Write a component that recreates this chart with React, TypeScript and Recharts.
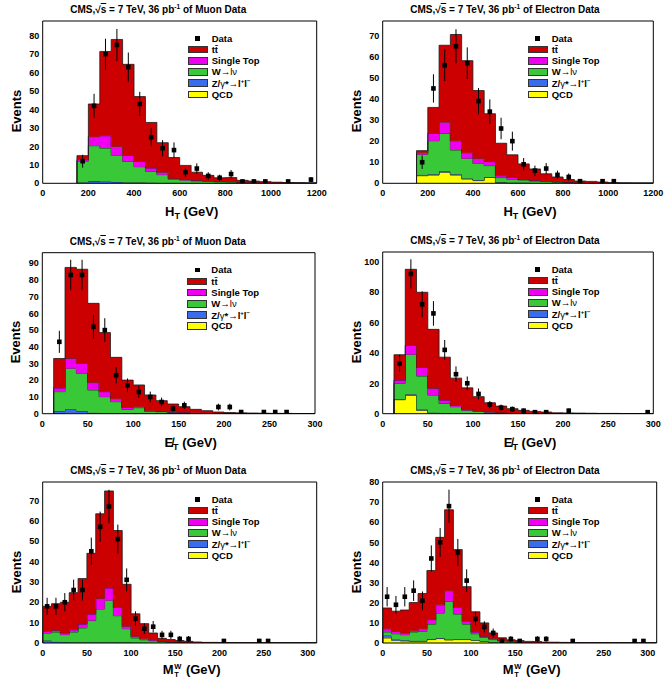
import { ComposedChart, Area, Scatter, ErrorBar, XAxis, YAxis } from "recharts";
import type { ReactNode } from "react";

const FONT = '"Liberation Sans", Arial, Helvetica, sans-serif';

// bin edges (GeV)
const htEdges = [150, 200, 250, 300, 350, 400, 450, 500, 550, 600, 650, 700, 750, 800, 850, 900, 950, 1000, 1050, 1100, 1150, 1200];
const metEdges = [12.5, 25, 37.5, 50, 62.5, 75, 87.5, 100, 112.5, 125, 137.5, 150, 162.5, 175, 187.5, 200, 212.5, 225, 237.5, 250, 262.5, 275, 287.5, 300];
const mtEdges = [0, 10, 20, 30, 40, 50, 60, 70, 80, 90, 100, 110, 120, 130, 140, 150, 160, 170, 180, 190, 200, 210, 220, 230, 240, 250, 260, 270, 280, 290, 300, 310];

// axis tick labels
const htTicks = [0, 200, 400, 600, 800, 1000, 1200];
const gevTicks = [0, 50, 100, 150, 200, 250, 300];
const y70 = [0, 10, 20, 30, 40, 50, 60, 70];
const y80 = [0, 10, 20, 30, 40, 50, 60, 70, 80];
const y90 = [0, 10, 20, 30, 40, 50, 60, 70, 80, 90];
const y100 = [0, 20, 40, 60, 80, 100];

// H_T, muon channel
const htMuTT = [2.2, 17.7, 45.7, 58, 49.2, 35.1, 24.7, 16, 11.4, 7.6, 4.4, 3.0, 2.0, 2.2, 1.1, 0.8, 0.6, 0.4, 0.25, 0.2, 0.15];
const htMuST = [0.8, 4.9, 6.7, 4.8, 3.4, 2.9, 1.8, 1.3, 0.4, 0.4, 0.3, 0.3, 0.2, 0.2, 0.1, 0.1, 0.1, 0.05, 0.05, 0, 0];
const htMuW = [11.5, 19.2, 18.1, 14.5, 11.4, 8.6, 6.2, 4.5, 2.0, 1.6, 1.2, 0.9, 0.7, 0.6, 0.4, 0.3, 0.2, 0.15, 0.1, 0.1, 0.05];
const htMuZ = [0.5, 1.2, 1.0, 0.7, 0.5, 0.4, 0.3, 0.2, 0.2, 0.1, 0.1, 0.1, 0.1, 0.1];
const htMuQCD: number[] = [];
const htMuData = [12, 42, 70, 75, 63, 43, 25, 19, 18, 6, 8, 4, 3, 5, 1, 1, 1, null, 1, null, 2];
const htMuErr = [3.5, 6.5, 8.4, 8.7, 7.9, 6.6, 5, 4.4, 4.2, 2.4, 2.8, 2, 1.7, 2.2, 1, 1, 1, null, 1, null, 1.4];

// H_T, electron channel
const htElTT = [1, 12.3, 36.5, 50.4, 43.7, 32.2, 22.7, 15.4, 10.7, 7.3, 5.4, 3.4, 2.2, 1.3, 0.8, 0.7, 0.5, 0.25, 0.2, 0.1, 0.1];
const htElST = [0.8, 3.5, 5.3, 4.4, 2.7, 2.3, 1.9, 0.9, 0.8, 0.3, 0.3, 0.3, 0.2, 0.1, 0.1, 0.05, 0, 0.05];
const htElW = [9.7, 15.9, 18, 11.5, 9.5, 7.9, 5.4, 2.2, 1.7, 1.3, 0.9, 0.65, 0.35, 0.3, 0.2, 0.15, 0.1];
const htElZ = [0.4, 0.4, 0.5, 0.4, 0.3, 0.3, 0.2, 0.2, 0.1, 0.1, 0.1, 0.05, 0.05];
const htElQCD = [3.6, 3.9, 5.2, 3.9, 2.0, 1.3, 2.8, 0.3, 0.2, 0.2, 0.1, 0.1, 0.2, 0.1];
const htElData = [10, 45, 56, 65, 57, 39, 34, 26, 20, 9, 6, 7, 4, 3, 1, null, 1, 1, null, null, null];
const htElErr = [3.2, 6.7, 7.5, 8.1, 7.5, 6.2, 5.8, 5.1, 4.5, 3, 2.4, 2.6, 2, 1.7, 1, null, 1, 1, null, null, null];

// missing E_T, muon channel
const metMuTT = [17.6, 54.4, 56.3, 47.4, 35.3, 24.7, 16.3, 13, 9.4, 6.4, 4.8, 3.4, 2.1, 1.4, 0.8, 0.55, 0.4, 0.3, 0.25, 0.2, 0.2, 0.1, 0.1];
const metMuST = [2.2, 6, 6, 4.4, 3, 1.8, 1.2, 0.6, 0.4, 0.2, 0.2, 0.2, 0.1, 0.1, 0.05, 0.05, 0.05, 0.05, 0.05];
const metMuW = [11.6, 24.5, 22.5, 13.6, 9.8, 6.9, 2.4, 3.4, 1.3, 1.1, 0.75, 0.55, 0.4, 0.3, 0.15, 0.1, 0.05, 0.05];
const metMuZ = [1.5, 2, 1.2, 0.6, 0.4, 0.3, 0.2, 0.2, 0.1, 0.1, 0.05, 0.05];
const metMuQCD = [0.1, 0.6, 0.4];
const metMuData = [43, 83, 83, 52, 50, 23, 17, 13, 10, 7, 3, 5, null, null, 4, 4, 1, null, 1, 1, 1, null, null];
const metMuErr = [6.6, 9.1, 9.1, 7.2, 7.1, 4.8, 4.1, 3.6, 3.2, 2.6, 1.7, 2.2, null, null, 2, 2, 1, null, 1, 1, 1, null, null];

// missing E_T, electron channel
const metElTT = [16.7, 50, 49.4, 38.8, 28.2, 17.9, 14.1, 9.4, 6, 4.2, 2.8, 1.9, 1.3, 1, 0.6, 0.5, 0.4, 0.3, 0.2, 0.2, 0.1, 0.1, 0.1];
const metElST = [2.1, 6, 5.7, 4.4, 2.2, 0.9, 0.7, 0.3, 0.2, 0.1, 0.1, 0.1, 0.1];
const metElW = [10.3, 26.2, 22.1, 11.6, 6.4, 4.5, 2.1, 1.5, 1.0, 0.7, 0.4, 0.2, 0.1, 0.1];
const metElZ = [0.5, 0.8, 0.5, 0.3, 0.2, 0.1, 0.1];
const metElQCD = [9.2, 12, 2.2, 0.4, 0.2];
const metElData = [33, 92, 72, 66, 42, 26, 20, 13, 6, 4, 3, 2, 1, 1, null, 2, null, null, null, null, null, null, 1];
const metElErr = [5.7, 9.6, 8.5, 8.1, 6.5, 5.1, 4.5, 3.6, 2.4, 2, 1.7, 1.4, 1, 1, null, 1.4, null, null, null, null, null, null, 1];

// W transverse mass, muon channel
const mtMuTT = [12.3, 13.1, 15.1, 18.2, 22.3, 29.8, 41.6, 47.6, 37.7, 20.6, 11, 7.4, 3.4, 1.5, 1.2, 0.9, 0.6, 0.4, 0.3, 0.3, 0.2, 0.2, 0.1, 0.1, 0.1, 0.1];
const mtMuST = [0.8, 0.8, 0.8, 1.1, 1.9, 3.2, 5.1, 6.1, 4.1, 1.2, 0.8, 0.5, 0.4, 0.2, 0.1, 0.1, 0.1];
const mtMuW = [3.7, 4.8, 3.7, 5.1, 7.1, 10.7, 16.4, 20.6, 13.2, 6.8, 2.4, 1.5, 1.1, 0.6, 0.4, 0.2, 0.1, 0.1];
const mtMuZ = [1.2, 0.6, 0.4, 0.3, 0.3, 0.3, 0.3, 0.3, 0.2, 0.2, 0.1, 0.1];
const mtMuQCD: number[] = [];
const mtMuData = [18, 18, 20, 26, 26, 45, 57, 67, 51, 31, 12, 7, 8, 4, 4, 2, 2, null, null, null, 1, null, null, null, 1, 1, null, null, null, null, null];
const mtMuErr = [4.2, 4.2, 4.5, 5.1, 5.1, 6.7, 7.5, 8.2, 7.1, 5.6, 3.5, 2.6, 2.8, 2, 2, 1.4, 1.4, null, null, null, 1, null, null, null, 1, 1, null, null, null, null, null];

// W transverse mass, electron channel
const mtElTT = [10.3, 10, 11.4, 14, 17.5, 24.4, 33.5, 40.2, 28.7, 17.2, 10, 6.7, 2.8, 1.4, 1, 0.8, 0.6, 0.6, 0.4, 0.4, 0.3, 0.2, 0.2, 0.1, 0.1, 0.1, 0.1, 0.1];
const mtElST = [1.6, 1.2, 0.9, 0.6, 1.3, 2.2, 4.1, 5.3, 3.3, 1.4, 0.9, 0.5, 0.5, 0.2, 0.1, 0.1];
const mtElW = [1.8, 2.8, 2.7, 4.4, 4.7, 7.4, 12.4, 18.9, 12.5, 7.5, 3.2, 1.9, 1.4, 0.9, 0.5, 0.3, 0.2, 0.1];
const mtElZ = [1.2, 0.5, 0.4, 0.3, 0.3, 0.3, 0.3, 0.3, 0.2, 0.2, 0.1, 0.1, 0.1];
const mtElQCD = [2.5, 1.3, 1, 0.8, 0.8, 1.7, 2.2, 1.5, 1.7, 1.7, 1.3, 0.8, 0.2, 0.1];
const mtElData = [23, 19, 23, 26, 21, 42, 50, 68, 45, 31, 12, 8, 5, 1, 2, 1, null, 2, 2, null, null, 1, null, null, null, null, null, null, 1, 1, null];
const mtElErr = [4.8, 4.4, 4.8, 5.1, 4.6, 6.5, 7.1, 8.2, 6.7, 5.6, 3.5, 2.8, 2.2, 1, 1.4, 1, null, 1.4, 1.4, null, null, 1, null, null, null, null, null, null, 1, 1, null];

// stacking order, bottom to top
const LAYERS = [
  { key: "qcd", color: "#ffff00" },
  { key: "z", color: "#3a6cf0" },
  { key: "w", color: "#38c838" },
  { key: "st", color: "#f000f0" },
  { key: "tt", color: "#cc0000" },
];

const steps = (from: number, to: number, step: number) => {
  const out: number[] = [];
  for (let v = from; v <= to + 1e-9; v += step) out.push(v);
  return out;
};

type Comp = { tt: number[]; st: number[]; w: number[]; z: number[]; qcd: number[] };

// one row per bin edge, closed with zero rows so the step outline drops to the axis
function histRows(edges: number[], c: Comp) {
  const n = edges.length - 1;
  const zero = { qcd: 0, z: 0, w: 0, st: 0, tt: 0 };
  const bin = (i: number) => ({
    qcd: c.qcd[i] ?? 0,
    z: c.z[i] ?? 0,
    w: c.w[i] ?? 0,
    st: c.st[i] ?? 0,
    tt: c.tt[i] ?? 0,
  });
  const rows = [{ x: edges[0], ...zero }];
  for (let i = 0; i < n; i++) rows.push({ x: edges[i], ...bin(i) });
  rows.push({ x: edges[n], ...bin(n - 1) });
  rows.push({ x: edges[n], ...zero });
  return rows;
}

function dataPoints(edges: number[], data: (number | null)[], err: (number | null)[]) {
  const pts: { x: number; y: number; err: number }[] = [];
  data.forEach((y, i) => {
    if (y == null) return;
    pts.push({ x: (edges[i] + edges[i + 1]) / 2, y, err: err[i] ?? 0 });
  });
  return pts;
}

const square = (p: any) => (
  <rect x={p.cx - 2.3} y={p.cy - 2.3} width={4.6} height={4.6} fill="#000" />
);

// ROOT-style frame: labelled bottom/left axes, inward major and minor ticks on all four sides.
// Mirror axes get a tiny non-zero size, otherwise recharts skips drawing them.
const THIN = 0.01;

function frameAxes(xMax: number, xTicks: number[], xMinor: number[], yMax: number, yTicks: number[], yMinor: number[]) {
  const xs = { dataKey: "x", type: "number" as const, domain: [0, xMax], allowDataOverflow: true, interval: 0 as const };
  const ys = { type: "number" as const, domain: [0, yMax], allowDataOverflow: true, interval: 0 as const };
  const line = { stroke: "#000", strokeWidth: 1 };
  const label = { fontSize: 9, fontWeight: 700, fill: "#000", fontFamily: FONT };
  return [
    <XAxis key="xb" xAxisId="b" {...xs} ticks={xTicks} height={20} tickSize={0} tickMargin={6.5} tickLine={false} axisLine={line} tick={label} />,
    <XAxis key="xb1" xAxisId="b1" {...xs} ticks={xTicks} mirror height={THIN} tickSize={6} tickLine={line} axisLine={false} tick={false} />,
    <XAxis key="xb2" xAxisId="b2" {...xs} ticks={xMinor} mirror height={THIN} tickSize={3} tickLine={line} axisLine={false} tick={false} />,
    <XAxis key="xt1" xAxisId="t1" orientation="top" {...xs} ticks={xTicks} mirror height={THIN} tickSize={6} tickLine={line} axisLine={line} tick={false} />,
    <XAxis key="xt2" xAxisId="t2" orientation="top" {...xs} ticks={xMinor} mirror height={THIN} tickSize={3} tickLine={line} axisLine={false} tick={false} />,
    <YAxis key="yl" yAxisId="l" {...ys} ticks={yTicks} width={30} tickSize={0} tickMargin={3.5} tickLine={false} axisLine={line} tick={label} />,
    <YAxis key="yl1" yAxisId="l1" {...ys} ticks={yTicks} mirror width={THIN} tickSize={6} tickLine={line} axisLine={false} tick={false} />,
    <YAxis key="yl2" yAxisId="l2" {...ys} ticks={yMinor} mirror width={THIN} tickSize={3} tickLine={line} axisLine={false} tick={false} />,
    <YAxis key="yr1" yAxisId="r1" orientation="right" {...ys} ticks={yTicks} mirror width={THIN} tickSize={6} tickLine={line} axisLine={line} tick={false} />,
    <YAxis key="yr2" yAxisId="r2" orientation="right" {...ys} ticks={yMinor} mirror width={THIN} tickSize={3} tickLine={line} axisLine={false} tick={false} />,
  ];
}

const LEGEND: { label: ReactNode; color?: string }[] = [
  { label: "Data" },
  { label: "tt\u0304", color: "#cc0000" },
  { label: "Single Top", color: "#f000f0" },
  {
    label: (
      <>
        W<span style={{ fontWeight: 400 }}>{"\u2192l\u03bd"}</span>
      </>
    ),
    color: "#38c838",
  },
  {
    label: (
      <>
        Z/<span style={{ fontWeight: 400 }}>{"\u03b3"}</span>*<span style={{ fontWeight: 400 }}>{"\u2192"}</span>l
        <sup style={{ fontSize: 6 }}>+</sup>l<sup style={{ fontSize: 6 }}>{"\u2212"}</sup>
      </>
    ),
    color: "#3a6cf0",
  },
  { label: "QCD", color: "#ffff00" },
];

function LegendBox({ x, y }: { x: number; y: number }) {
  return (
    <div style={{ position: "absolute", left: x, top: y, fontSize: 9.5, fontWeight: 700 }}>
      {LEGEND.map((r, i) => (
        <div key={i} style={{ display: "flex", alignItems: "center", height: 11.2, lineHeight: 1 }}>
          <div
            style={{
              width: 20,
              height: 7.6,
              boxSizing: "border-box",
              border: r.color ? "1px solid #333" : "none",
              background: r.color ?? "transparent",
              display: "flex",
              alignItems: "center",
              justifyContent: "center",
              marginRight: 4,
            }}
          >
            {!r.color && <div style={{ width: 4.6, height: 4.6, background: "#000" }} />}
          </div>
          <span style={{ whiteSpace: "nowrap" }}>{r.label}</span>
        </div>
      ))}
    </div>
  );
}

type PanelProps = {
  left: number;
  top: number;
  plot: { l: number; r: number; t: number; b: number };
  edges: number[];
  comp: Comp;
  data: (number | null)[];
  err: (number | null)[];
  xMax: number;
  xTicks: number[];
  xMinorStep: number;
  yMax: number;
  yTicks: number[];
  channel: string;
  xTitle: ReactNode;
};

const W = 335;
const H = 226;

function Panel(p: PanelProps) {
  const { l, r, t, b } = p.plot;
  const rows = histRows(p.edges, p.comp);
  const pts = dataPoints(p.edges, p.data, p.err);
  return (
    <div style={{ position: "absolute", left: p.left, top: p.top, width: W, height: H }}>
      <ComposedChart
        width={W}
        height={H}
        data={rows}
        margin={{ top: t, right: W - r, bottom: H - b - 20, left: l - 30 }}
      >
        {LAYERS.map((ly) => (
          <Area
            key={ly.key}
            xAxisId="b"
            yAxisId="l"
            dataKey={ly.key}
            stackId="mc"
            type="stepAfter"
            fill={ly.color}
            fillOpacity={1}
            stroke="#1a1a1a"
            strokeWidth={0.8}
            dot={false}
            activeDot={false}
            isAnimationActive={false}
          />
        ))}
        {frameAxes(p.xMax, p.xTicks, steps(0, p.xMax, p.xMinorStep), p.yMax, p.yTicks, steps(0, p.yMax, 5))}
        <Scatter xAxisId="b" yAxisId="l" data={pts} dataKey="y" shape={square} isAnimationActive={false}>
          <ErrorBar dataKey="err" direction="y" width={0} stroke="#000" strokeWidth={1} />
        </Scatter>
      </ComposedChart>

      <div
        style={{
          position: "absolute",
          left: l + 27.5,
          top: t - 11,
          transform: "translateY(-50%)",
          fontSize: 10,
          fontWeight: 700,
          whiteSpace: "nowrap",
          lineHeight: 1,
        }}
      >
        CMS,{"\u221a"}
        <span style={{ textDecoration: "overline" }}>s</span> = 7 TeV, 36 pb
        <span style={{ fontSize: 6.5, position: "relative", top: -4 }}>-1</span> of {p.channel} Data
      </div>

      <div
        style={{
          position: "absolute",
          left: l - 27,
          top: (t + b) / 2 + 9,
          transform: "translate(-50%, -50%) rotate(-90deg)",
          fontSize: 13,
          fontWeight: 700,
          whiteSpace: "nowrap",
          lineHeight: 1,
        }}
      >
        Events
      </div>

      <div
        style={{
          position: "absolute",
          left: (l + r) / 2 + 12,
          top: b + 28,
          transform: "translate(-50%, -50%)",
          fontSize: 13,
          fontWeight: 700,
          whiteSpace: "nowrap",
          lineHeight: 1,
        }}
      >
        {p.xTitle}
      </div>

      <LegendBox x={l + 145} y={t + 17.5 - 5.6} />
    </div>
  );
}

const sub = { fontSize: 9, position: "relative" as const, top: 3 };

const htTitle = (
  <>
    H<span style={sub}>T</span> (GeV)
  </>
);
const metTitle = (
  <>
    {"E\u0338"}
    <span style={sub}>T</span> (GeV)
  </>
);
// M with W on top and T below, stacked in a small column
const mtTitle = (
  <>
    M
    <span
      style={{
        display: "inline-flex",
        flexDirection: "column",
        fontSize: 7.5,
        lineHeight: 1.1,
        verticalAlign: "middle",
        marginLeft: 0.5,
        marginRight: 1,
      }}
    >
      <span>W</span>
      <span>T</span>
    </span>{" "}
    (GeV)
  </>
);

export default function App() {
  return (
    <div
      style={{
        position: "absolute",
        left: 0,
        top: 0,
        width: 670,
        height: 678,
        overflow: "hidden",
        background: "#fff",
        fontFamily: FONT,
        color: "#000",
      }}
    >
      <Panel
        left={0}
        top={0}
        plot={{ l: 42.7, r: 316.7, t: 21, b: 183.3 }}
        edges={htEdges}
        comp={{ tt: htMuTT, st: htMuST, w: htMuW, z: htMuZ, qcd: htMuQCD }}
        data={htMuData}
        err={htMuErr}
        xMax={1200}
        xTicks={htTicks}
        xMinorStep={50}
        yMax={88}
        yTicks={y80}
        channel="Muon"
        xTitle={htTitle}
      />
      <Panel
        left={335}
        top={0}
        plot={{ l: 47.7, r: 318.3, t: 21, b: 183.3 }}
        edges={htEdges}
        comp={{ tt: htElTT, st: htElST, w: htElW, z: htElZ, qcd: htElQCD }}
        data={htElData}
        err={htElErr}
        xMax={1200}
        xTicks={htTicks}
        xMinorStep={50}
        yMax={77}
        yTicks={y70}
        channel="Electron"
        xTitle={htTitle}
      />
      <Panel
        left={0}
        top={226}
        plot={{ l: 42.3, r: 315, t: 26.7, b: 187.7 }}
        edges={metEdges}
        comp={{ tt: metMuTT, st: metMuST, w: metMuW, z: metMuZ, qcd: metMuQCD }}
        data={metMuData}
        err={metMuErr}
        xMax={300}
        xTicks={gevTicks}
        xMinorStep={10}
        yMax={96.3}
        yTicks={y90}
        channel="Muon"
        xTitle={metTitle}
      />
      <Panel
        left={335}
        top={226}
        plot={{ l: 47.7, r: 318.3, t: 26, b: 187.7 }}
        edges={metEdges}
        comp={{ tt: metElTT, st: metElST, w: metElW, z: metElZ, qcd: metElQCD }}
        data={metElData}
        err={metElErr}
        xMax={300}
        xTicks={gevTicks}
        xMinorStep={10}
        yMax={106.4}
        yTicks={y100}
        channel="Electron"
        xTitle={metTitle}
      />
      <Panel
        left={0}
        top={452}
        plot={{ l: 42.7, r: 316.7, t: 30, b: 191 }}
        edges={mtEdges}
        comp={{ tt: mtMuTT, st: mtMuST, w: mtMuW, z: mtMuZ, qcd: mtMuQCD }}
        data={mtMuData}
        err={mtMuErr}
        xMax={310}
        xTicks={gevTicks}
        xMinorStep={10}
        yMax={79}
        yTicks={y70}
        channel="Muon"
        xTitle={mtTitle}
      />
      <Panel
        left={335}
        top={452}
        plot={{ l: 47.7, r: 321.7, t: 30, b: 191 }}
        edges={mtEdges}
        comp={{ tt: mtElTT, st: mtElST, w: mtElW, z: mtElZ, qcd: mtElQCD }}
        data={mtElData}
        err={mtElErr}
        xMax={310}
        xTicks={gevTicks}
        xMinorStep={10}
        yMax={80}
        yTicks={y80}
        channel="Electron"
        xTitle={mtTitle}
      />
    </div>
  );
}
